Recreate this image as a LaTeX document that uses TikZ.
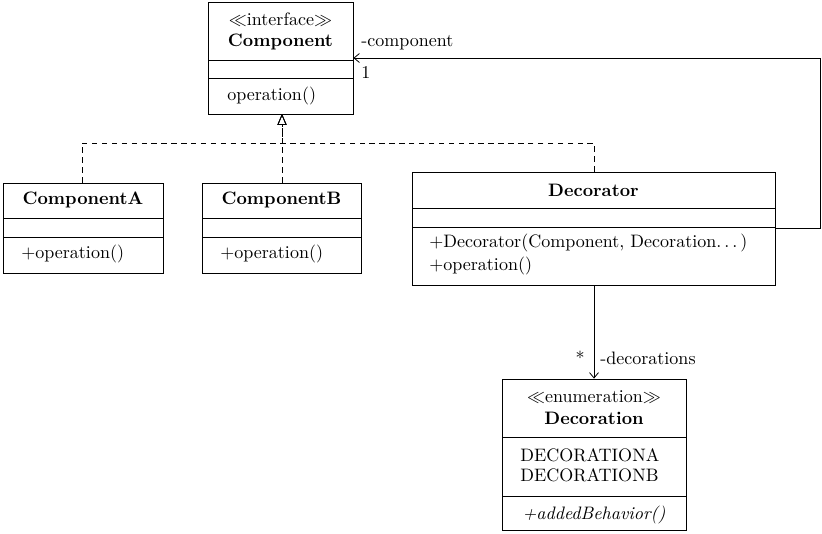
\documentclass[tikz,border=0pt]{standalone}
\usetikzlibrary{arrows.meta,fit}
\begin{document}
\begin{tikzpicture}[x=0.555pt,y=-0.555pt,
  cls/.style={draw,line width=0.45pt,inner sep=0pt},
  sep/.style={line width=0.45pt},
  txt/.style={inner sep=0pt,font=\normalsize},
  lft/.style={txt,anchor=west},
  realize/.style={line width=0.4pt,dash pattern=on 3pt off 2.5pt,-{Triangle[open,length=6pt,width=5pt]}},
  assoc/.style={line width=0.45pt,-{Straight Barb[length=3pt,width=5pt]}}]
\useasboundingbox (0,0) rectangle (822,533);

% Component interface
\node[cls,fit={(208,2) (353,114)}] (comp) {};
\draw[sep] (208,60) -- (353,60);
\draw[sep] (208,78) -- (353,78);
\node[txt] (compst) at (280.5,19) {$\ll$interface$\gg$};
\node[txt] (compname) at (280.5,42) {\textbf{Component}};
\node[lft] (compop) at (227,96) {operation()};

% ComponentA
\node[cls,fit={(3,183) (163,273)}] (ca) {};
\draw[sep] (3,218) -- (163,218);
\draw[sep] (3,237) -- (163,237);
\node[txt] (caname) at (83,200) {\textbf{ComponentA}};
\node[lft] (caop) at (21,254) {+operation()};

% ComponentB
\node[cls,fit={(202,183) (361,273)}] (cb) {};
\draw[sep] (202,218) -- (361,218);
\draw[sep] (202,237) -- (361,237);
\node[txt] (cbname) at (281.5,200) {\textbf{ComponentB}};
\node[lft] (cbop) at (220,254) {+operation()};

% Decorator
\node[cls,fit={(412,172) (775,285)}] (dec) {};
\draw[sep] (412,208) -- (775,208);
\draw[sep] (412,227) -- (775,227);
\node[txt] (decname) at (593.5,190) {\textbf{Decorator}};
\node[lft] (decop1) at (429,243) {+Decorator(Component, Decoration$\ldots$\,)};
\node[lft] (decop2) at (429,266) {+operation()};

% Decoration enumeration
\node[cls,fit={(502,379) (686,530)}] (deco) {};
\draw[sep] (502,437) -- (686,437);
\draw[sep] (502,496) -- (686,496);
\node[txt] (decost) at (594,397) {$\ll$enumeration$\gg$};
\node[txt] (deconame) at (594,418) {\textbf{Decoration}};
\node[lft] (decoa) at (520,455) {DECORATIONA};
\node[lft] (decob) at (520,475) {DECORATIONB};
\node[txt] (decoop) at (594,515) {\textit{+addedBehavior()}};

% realization edges
\draw[realize] (ca.north -| 82,0) |- (282,143) -- (282,114);
\draw[realize] (cb.north -| 282,0) -- (282,114);
\draw[realize] (dec.north -| 594,0) |- (282,143) -- (282,114);

% association Decorator -> Component
\coordinate (rt) at (820,228);
\coordinate (rtop) at (820,58);
\draw[assoc] (dec.east |- 0,228) -- (rt) -- (rtop) -- (comp.east |- 0,58);
\node[lft] (rolec) at (361,43) {-component};
\node[lft] (multc) at (361,72) {1};

% association Decorator -> Decoration
\draw[assoc] (dec.south -| 594,0) -- (deco.north -| 594,0);
\node[txt] (multd) at (580,358) {*};
\node[lft] (roled) at (600,358) {-decorations};
\end{tikzpicture}
\end{document}
